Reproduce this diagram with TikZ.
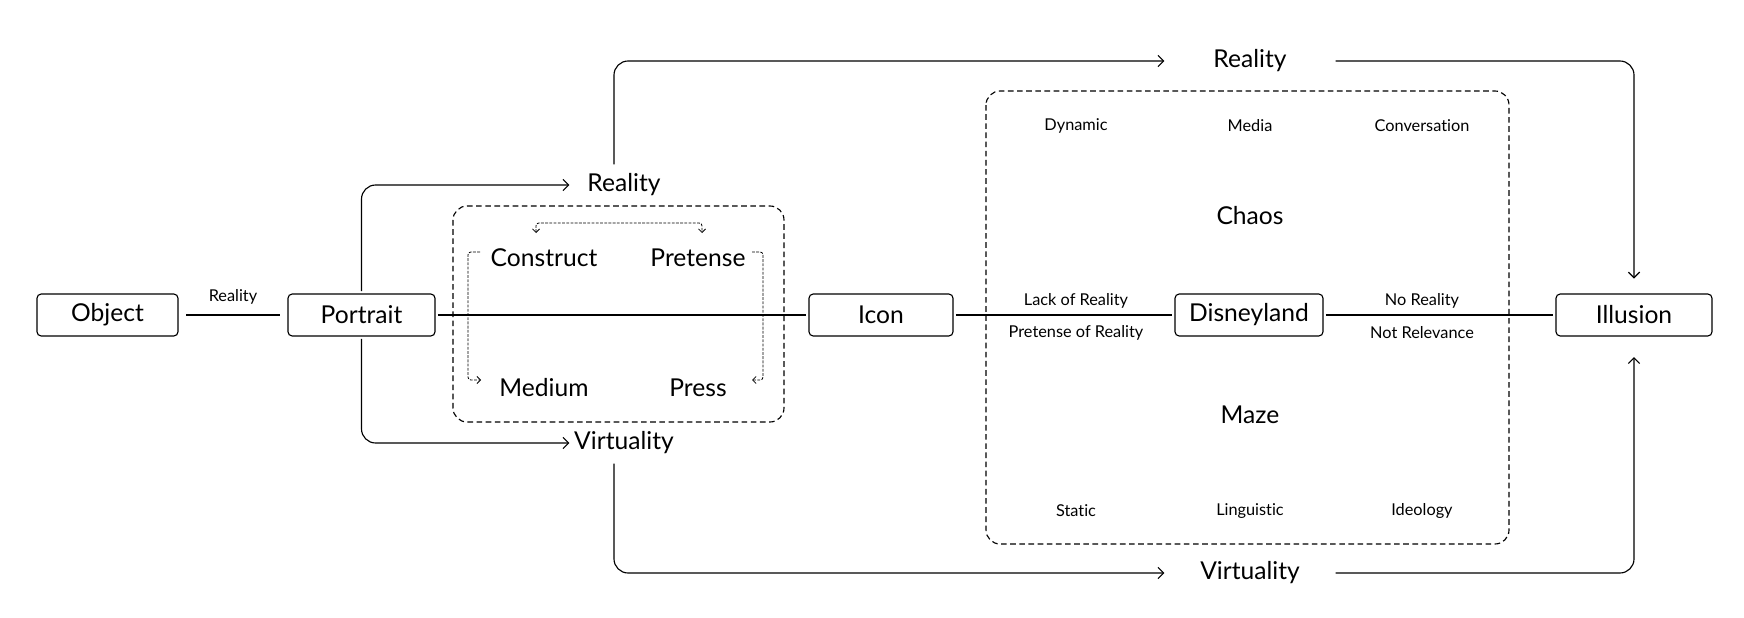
\documentclass[tikz,border=0pt]{standalone}
\usepackage{fontspec}
\setmainfont{Lato}[Ligatures = {NoCommon, NoContextual}]
\usetikzlibrary{arrows.meta, calc}

\newcommand{\labelbig}{\fontsize{17.5}{21}\selectfont}
\newcommand{\labelsmall}{\fontsize{11.6}{14}\selectfont}

\begin{document}
\begin{tikzpicture}[x = 0.025cm, y = -0.025cm, line width = 0.8pt, > = {Straight Barb[length = 4pt, width = 8pt]},
  box/.style = { draw, rounded corners = 3pt, minimum height = 1.05cm, outer sep = 2pt, font = \labelbig },
  word/.style = { inner sep = 0pt, font = \labelbig },
  tag/.style = { inner sep = 0pt, font = \labelsmall },
  frame/.style = { draw, dash pattern = on 4pt off 2.5pt, rounded corners = 10pt },
  link/.style = { ->, rounded corners = 10pt },
  hint/.style = { line width = 0.6pt, dash pattern = on 2pt off 1pt, rounded corners = 2pt, > = {Straight Barb[length = 2.5pt, width = 5pt]} }]
  \useasboundingbox (0, 0) rectangle (1744, 618);

  \draw [frame] (453, 206) rectangle (784, 422);
  \draw [frame] (986, 91) rectangle (1509, 544);

  \node [box, minimum width = 3.525cm] (object) at (107.5, 315) {Object};
  \node [box, minimum width = 3.675cm] (portrait) at (361.5, 315) {Portrait};
  \node [box, minimum width = 3.6cm] (icon) at (881, 315) {Icon};
  \node [box, minimum width = 3.7cm] (disneyland) at (1249, 315) {Disneyland};
  \node [box, minimum width = 3.9cm] (illusion) at (1634, 315) {Illusion};

  \node [word, minimum width = 2.7cm, minimum height = 1cm] (realitymid) at (624, 185) {Reality};
  \node [word, minimum width = 2.7cm, minimum height = 1cm] (virtualitymid) at (624, 443) {Virtuality};
  \node [word, minimum width = 4.25cm] (realitytop) at (1250, 61) {Reality};
  \node [word, minimum width = 4.25cm] (virtualitybot) at (1250, 573) {Virtuality};

  \node [word] (construct) at (544, 258) {Construct};
  \node [word] (pretense) at (698, 258) {Pretense};
  \node [word] (medium) at (544, 388) {Medium};
  \node [word] (press) at (698, 388) {Press};

  \node [word] (chaos) at (1250, 216) {Chaos};
  \node [word] (maze) at (1250, 415) {Maze};
  \node [tag] (dynamic) at (1076, 126) {Dynamic};
  \node [tag] (media) at (1250, 126) {Media};
  \node [tag] (conversation) at (1422, 126) {Conversation};
  \node [tag] (lack) at (1076, 301) {Lack of Reality};
  \node [tag] (pretenseof) at (1076, 333) {Pretense of Reality};
  \node [tag] (noreality) at (1422, 301) {No Reality};
  \node [tag] (notrelevance) at (1422, 333) {Not Relevance};
  \node [tag] (static) at (1076, 511) {Static};
  \node [tag] (linguistic) at (1250, 511) {Linguistic};
  \node [tag] (ideology) at (1422, 511) {Ideology};

  \draw [shorten < = 4pt, shorten > = 4pt] (object) -- node [tag, above = 7pt] (objreality) {Reality} (portrait);
  \draw (portrait) -- (icon);
  \draw (icon) -- (disneyland);
  \draw (disneyland) -- (illusion);

  \draw [link] (portrait.north) |- (realitymid.west);
  \draw [link] (portrait.south) |- (virtualitymid.west);
  \draw [link] ($(realitymid.north) + (-10, 0)$) |- (realitytop.west);
  \draw [link] ($(virtualitymid.south) + (-10, 0)$) |- (virtualitybot.west);
  \draw [link, shorten > = 9pt] (realitytop.east) -| (illusion.north);
  \draw [link, shorten > = 13pt] (virtualitybot.east) -| (illusion.south);

  \draw [hint, <->] ($(construct) + (-8, -25)$) -- ++(0, -10) -| ($(pretense) + (4, -25)$);
  \draw [hint, ->] ($(construct) + (-64, -6)$) -- ++(-12, 0) |- ($(medium) + (-63, -8)$);
  \draw [hint, ->] ($(pretense) + (54, -6)$) -- ++(11, 0) |- ($(press) + (54, -8)$);
\end{tikzpicture}
\end{document}
